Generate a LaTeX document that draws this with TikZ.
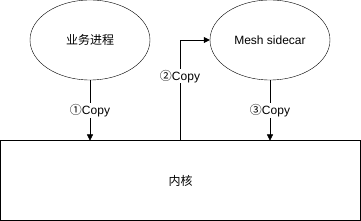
\documentclass[tikz,border=0pt]{standalone}
\usepackage{fontspec}
\setmainfont{Liberation Sans}
\newfontfamily\cjk{Noto Sans CJK SC}
\usetikzlibrary{shapes, arrows.meta, positioning, calc}

\begin{document}
\begin{tikzpicture}[x=1pt, y=-1pt, font=\fontsize{12}{14}\selectfont,
  proc/.style={draw, ellipse, minimum width=120pt, minimum height=80pt, inner sep=0pt},
  lbl/.style={fill=white, inner sep=1pt},
  flow/.style={-{Triangle[length=6pt, width=6pt]}}]
\useasboundingbox (0,0) rectangle (361,221);
% processes
\node[proc] (app) at (90,40) {\cjk 业务进程};
\node[proc] (mesh) at (270,40) {Mesh sidecar};
% kernel
\node[draw, minimum width=360pt, minimum height=80pt, inner sep=0pt] (kernel) at (180.5,180.5) {\cjk 内核};
\coordinate (k1) at (90,140.5);
\coordinate (k2) at (180,140.5);
\coordinate (k3) at (270,140.5);
% copies
\draw[flow] (app) -- (k1) node[lbl, pos=0.5] (c1) {{\cjk ①}Copy};
\draw[flow] (k2) |- (mesh) node[lbl, pos=0.32] (c2) {{\cjk ②}Copy};
\draw[flow] (mesh) -- (k3) node[lbl, pos=0.5] (c3) {{\cjk ③}Copy};
\end{tikzpicture}
\end{document}
